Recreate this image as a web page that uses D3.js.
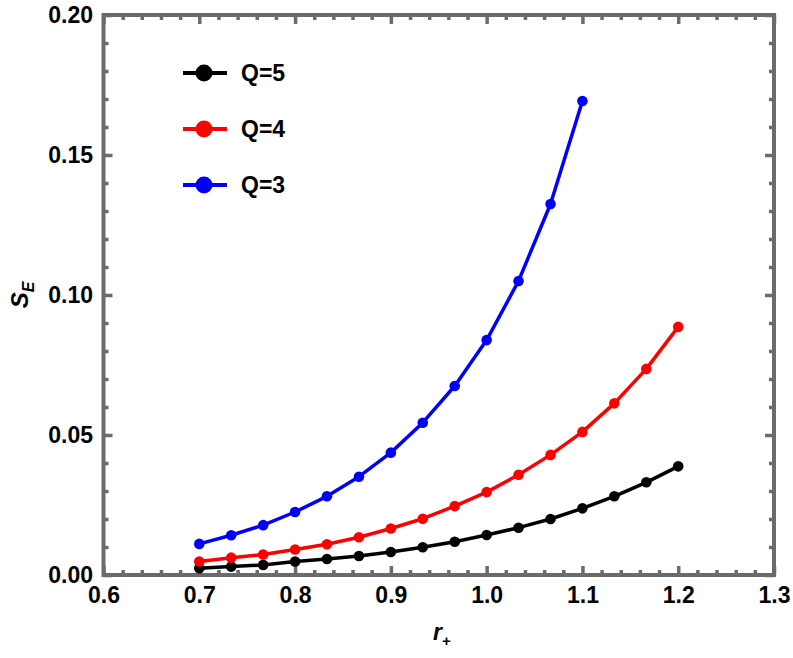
<!DOCTYPE html>
<html>
<head>
<meta charset="utf-8">
<script src="https://cdn.jsdelivr.net/npm/d3@7"></script>
<style>
  body { margin: 0; background: #fff; }
  svg text { font-family: "Liberation Sans", Arial, sans-serif; font-weight: bold; fill: #000; }
</style>
</head>
<body>
<svg id="chart"></svg>
<script>
// r+ values, step 1/30 from 0.7
const rQ5 = [0.7, 0.7333, 0.7667, 0.8, 0.8333, 0.8667, 0.9, 0.9333, 0.9667, 1.0, 1.0333, 1.0667, 1.1, 1.1333, 1.1667, 1.2];
const rQ4 = rQ5;
const rQ3 = [0.7, 0.7333, 0.7667, 0.8, 0.8333, 0.8667, 0.9, 0.9333, 0.9667, 1.0, 1.0333, 1.0667, 1.1];

// S_E values
const seQ5 = [0.0024, 0.0030, 0.0036, 0.0048, 0.0057, 0.0068, 0.0082, 0.0099, 0.0119, 0.0143, 0.0169, 0.0200, 0.0238, 0.0281, 0.0331, 0.0388];
const seQ4 = [0.0048, 0.0062, 0.0073, 0.0091, 0.0110, 0.0135, 0.0166, 0.0201, 0.0246, 0.0296, 0.0358, 0.0429, 0.0511, 0.0613, 0.0736, 0.0886];
const seQ3 = [0.0111, 0.0142, 0.0178, 0.0225, 0.0281, 0.0351, 0.0437, 0.0544, 0.0675, 0.0839, 0.1050, 0.1325, 0.1693];

const seriesNames = ['Q=5', 'Q=4', 'Q=3'];
const seriesColors = ['#000000', '#ff0000', '#0000ff'];

const xTicks = [0.6, 0.7, 0.8, 0.9, 1.0, 1.1, 1.2, 1.3];
const yTicks = [0.00, 0.05, 0.10, 0.15, 0.20];

const series = [
  { name: seriesNames[0], color: seriesColors[0], values: rQ5.map((r, i) => ({ x: r, y: seQ5[i] })) },
  { name: seriesNames[1], color: seriesColors[1], values: rQ4.map((r, i) => ({ x: r, y: seQ4[i] })) },
  { name: seriesNames[2], color: seriesColors[2], values: rQ3.map((r, i) => ({ x: r, y: seQ3[i] })) }
];

const W = 793, H = 658;
const margin = { top: 15, right: 19, bottom: 83, left: 103.5 };
const width = W - margin.left - margin.right;
const height = H - margin.top - margin.bottom;
const frameColor = '#6b6b6b';

const svg = d3.select('#chart').attr('width', W).attr('height', H);
const chart = svg.append('g').attr('transform', `translate(${margin.left},${margin.top})`);

const xScale = d3.scaleLinear().domain([0.6, 1.3]).range([0, width]);
const yScale = d3.scaleLinear().domain([0, 0.2]).range([height, 0]);

const xMinor = d3.range(0.6, 1.3001, 0.02).filter(v => Math.abs(v * 10 - Math.round(v * 10)) > 1e-6);
const yMinor = d3.range(0, 0.2001, 0.01).filter(v => Math.abs(v * 20 - Math.round(v * 20)) > 1e-6);

// helper: draw inward ticks on one side
function addTicks(axisFn, scale, values, size, transform, labels, fmt) {
  const g = chart.append('g')
    .attr('transform', transform)
    .call(axisFn(scale).tickValues(values).tickSize(-size).tickPadding(labels ? 12 : 0)
      .tickFormat(labels ? fmt : ''));
  g.select('.domain').remove();
  g.selectAll('line').attr('stroke', frameColor).attr('stroke-width', 3.5);
  g.selectAll('text').style('font-size', '23px');
  return g;
}

// bottom / top
addTicks(d3.axisBottom, xScale, xTicks, 9, `translate(0,${height})`, true, d3.format('.1f'));
addTicks(d3.axisBottom, xScale, xMinor, 5, `translate(0,${height})`, false);
addTicks(d3.axisTop, xScale, xTicks, 9, 'translate(0,0)', false);
addTicks(d3.axisTop, xScale, xMinor, 5, 'translate(0,0)', false);
// left / right
addTicks(d3.axisLeft, yScale, yTicks, 9, 'translate(0,0)', true, d3.format('.2f'))
  .selectAll('text').attr('x', -10.5);
addTicks(d3.axisLeft, yScale, yMinor, 5, 'translate(0,0)', false);
addTicks(d3.axisRight, yScale, yTicks, 9, `translate(${width},0)`, false);
addTicks(d3.axisRight, yScale, yMinor, 5, `translate(${width},0)`, false);

// frame
chart.append('rect')
  .attr('width', width).attr('height', height)
  .attr('fill', 'none').attr('stroke', frameColor).attr('stroke-width', 4);

// lines and points
const line = d3.line().x(d => xScale(d.x)).y(d => yScale(d.y));

series.forEach(s => {
  chart.append('path')
    .datum(s.values)
    .attr('fill', 'none')
    .attr('stroke', s.color)
    .attr('stroke-width', 3.5)
    .attr('stroke-linejoin', 'round')
    .attr('d', line);
  chart.selectAll(null)
    .data(s.values)
    .join('circle')
    .attr('cx', d => xScale(d.x))
    .attr('cy', d => yScale(d.y))
    .attr('r', 5.3)
    .attr('fill', s.color);
});

// legend
const legend = svg.append('g').attr('transform', 'translate(183,73)');
series.forEach((s, i) => {
  const g = legend.append('g').attr('transform', `translate(0,${i * 56})`);
  g.append('line').attr('x1', 0).attr('x2', 44).attr('stroke', s.color).attr('stroke-width', 4);
  g.append('circle').attr('cx', 21).attr('r', 8.5).attr('fill', s.color);
  g.append('text').attr('x', 58).attr('dy', '0.35em').style('font-size', '23px').text(s.name);
});

// axis titles
const xt = svg.append('text')
  .attr('x', margin.left + width / 2 + 3)
  .attr('y', 640)
  .attr('text-anchor', 'middle')
  .style('font-size', '23px')
  .style('font-style', 'italic');
xt.append('tspan').text('r');
xt.append('tspan').attr('dy', 6).style('font-size', '15px').text('+');

const yt = svg.append('text')
  .attr('transform', `translate(28,${margin.top + height / 2}) rotate(-90)`)
  .attr('text-anchor', 'middle')
  .style('font-size', '24px')
  .style('font-style', 'italic');
yt.append('tspan').text('S');
yt.append('tspan').attr('dy', 6).style('font-size', '16px').text('E');
</script>
</body>
</html>
